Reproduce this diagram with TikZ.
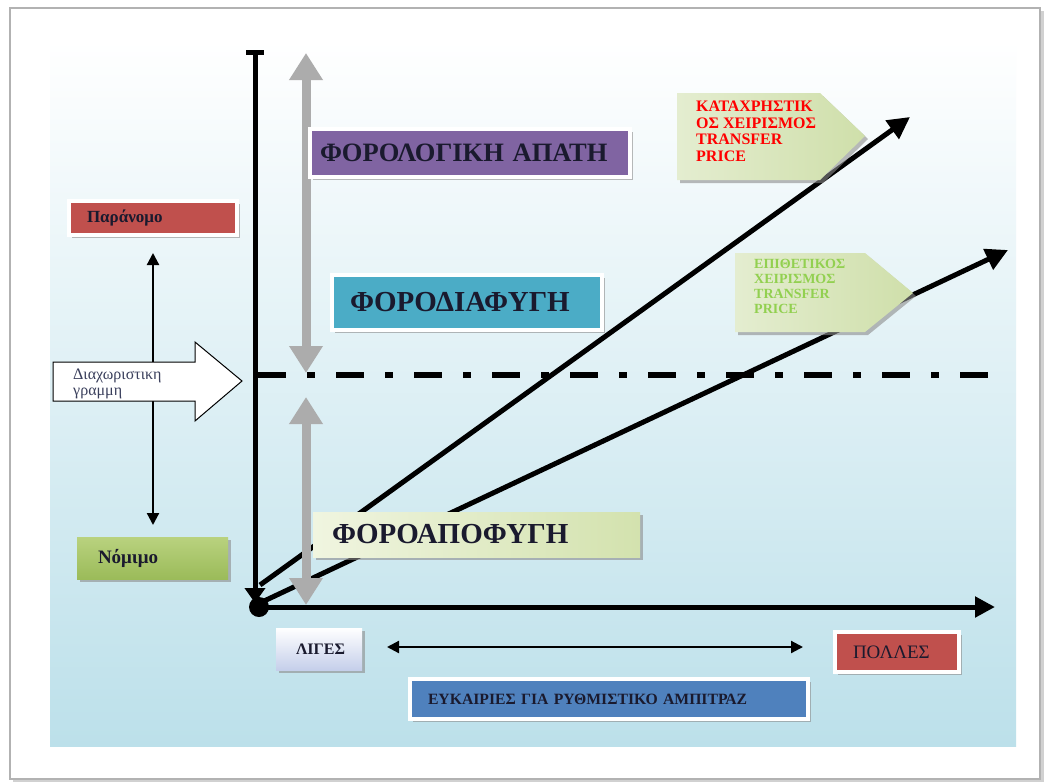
\documentclass[tikz,border=0pt]{standalone}
\usepackage{fontspec}
\setmainfont{Liberation Serif}
\usetikzlibrary{arrows.meta,shadows,calc}
\definecolor{panelM}{HTML}{E4F2F6}
\definecolor{panelB}{HTML}{BCE0EA}
\definecolor{purpleF}{HTML}{8064A2}
\definecolor{tealF}{HTML}{4BACC6}
\definecolor{redF}{HTML}{C0504D}
\definecolor{blueF}{HTML}{4F81BD}
\definecolor{greenF}{HTML}{9BBB59}
\definecolor{greenL}{HTML}{B9D27F}
\definecolor{paleL}{HTML}{F0F5E0}
\definecolor{paleR}{HTML}{D3E2AE}
\definecolor{calL}{HTML}{E4EDD0}
\definecolor{calR}{HTML}{CFDFAA}
\definecolor{lilac}{HTML}{C5CFEA}
\definecolor{darktext}{HTML}{1A1A2E}
\definecolor{navytext}{HTML}{3A3F5C}
\definecolor{lightgreenT}{HTML}{92D050}
\begin{document}
\begin{tikzpicture}[x=1pt,y=-1pt,
  shadowed/.style={drop shadow={shadow xshift=3pt,shadow yshift=-3pt,fill=black!45,opacity=0.6}},
  framebox/.style={shadowed,draw=white,line width=3.5pt,outer sep=0pt,anchor=north west,
     inner ysep=0pt,align=left,text=darktext},
  bigtxt/.style={font=\fontsize{29}{32}\selectfont\bfseries},
  axisline/.style={line width=5pt,black},
  diag/.style={line width=5pt,black,-{Triangle[width=22pt,length=22pt]}},
  greyarrow/.style={line width=9pt,draw=gray!65,{Triangle[width=32pt,length=27pt]}-{Triangle[width=32pt,length=27pt]}},
  thinarrow/.style={line width=2.2pt,black,{Triangle[width=12pt,length=12pt]}-{Triangle[width=12pt,length=12pt]}}
]
\useasboundingbox (0,0) rectangle (1044,782);
% page frame
\fill[black!18] (13,11) rectangle (1044,782);
\draw[gray!60,line width=1.2pt,fill=white] (10,8) rectangle (1040,779);
% panel
\shade[top color=white,middle color=panelM,bottom color=panelB] (50,40) rectangle (1016,746);

% named points
\coordinate (O) at (258,607);
\coordinate (Ytop) at (255,50);
\coordinate (Ybot) at (255,603);
\coordinate (Xend) at (995,607);
\coordinate (D1) at (258,375);
\coordinate (D2) at (1000,375);
\coordinate (L1a) at (260,585);
\coordinate (L1b) at (910,117);
\coordinate (L2a) at (262,602);
\coordinate (L2b) at (1008,250);
\coordinate (G1a) at (306,53);
\coordinate (G1b) at (306,373);
\coordinate (G2a) at (306,397);
\coordinate (G2b) at (306,605);

% dash-dot separating line
\draw[line width=6pt,dash pattern=on 28pt off 21pt on 8pt off 21pt] (D1) -- (D2);
% diagonals
\draw[diag] (L1a) -- (L1b);
\draw[diag] (L2a) -- (L2b);
% axes
\draw[axisline,{Triangle[width=20pt,length=15pt]}-{Bar[width=18pt]}] (Ybot) -- (Ytop);
\draw[axisline,-{Triangle[width=20pt,length=20pt]}] (O) -- (Xend);
\fill (259,607) circle (10);
% grey double arrows
\draw[greyarrow] (G1a) -- (G1b);
\draw[greyarrow] (G2a) -- (G2b);

% boxes
\node[framebox,fill=purpleF,minimum width=320pt,minimum height=48pt,inner xsep=10pt,text width=300pt,
  font=\fontsize{26.5}{29}\selectfont\bfseries]
  (apati) at (310,129) {ΦΟΡΟΛΟΓΙΚΗ ΑΠΑΤΗ};
\node[framebox,fill=tealF,minimum width=270pt,minimum height=55pt,inner xsep=18pt,text width=234pt,bigtxt]
  (diafygi) at (332,275) {ΦΟΡΟΔΙΑΦΥΓΗ};
\node[framebox,draw=none,left color=paleL,right color=paleR,minimum width=327pt,minimum height=45pt,inner xsep=19pt,text width=289pt,bigtxt]
  (apofygi) at (313,512) {ΦΟΡΟΑΠΟΦΥΓΗ};

% left side
\node[framebox,fill=redF,minimum width=168pt,minimum height=34pt,inner xsep=18pt,text width=132pt,
  font=\fontsize{17}{19}\selectfont\bfseries] (paranomo) at (69,201) {Παράνομο};
\node[framebox,draw=none,top color=greenL,bottom color=greenF,minimum width=151pt,minimum height=42pt,inner xsep=21pt,text width=109pt,
  font=\fontsize{19}{21}\selectfont\bfseries] (nomimo) at (77,537) {Νόμιμο};
\draw[thinarrow,shorten <=18pt,shorten >=12pt] (paranomo.south) -- (paranomo.south |- nomimo.north);
% block arrow
\draw[fill=white,line width=1pt] (53,362) -- (195,362) -- (195,342) -- (242,381) -- (195,421) -- (195,401) -- (53,401) -- cycle;
\node[anchor=west,align=left,inner sep=0pt,text=navytext,font=\fontsize{16}{16}\selectfont] (diax) at (73,384) {Διαχωριστικη\\γραμμη};

% bottom
\node[framebox,draw=none,top color=white,bottom color=lilac,minimum width=86pt,minimum height=42pt,inner xsep=20pt,text width=46pt,
  font=\fontsize{16}{18}\selectfont\bfseries] (liges) at (276,628) {ΛΙΓΕΣ};
\node[framebox,fill=redF,minimum width=124pt,minimum height=40pt,inner xsep=18pt,text width=88pt,
  font=\fontsize{19}{21}\selectfont] (polles) at (835,632) {ΠΟΛΛΕΣ};
\node[framebox,fill=blueF,minimum width=398pt,minimum height=40pt,inner xsep=18pt,text width=362pt,
  font=\fontsize{15.7}{18}\selectfont\bfseries] (eykairies) at (410,679) {ΕΥΚΑΙΡΙΕΣ ΓΙΑ ΡΥΘΜΙΣΤΙΚΟ ΑΜΠΙΤΡΑΖ};
\coordinate (HA) at (387,647);
\coordinate (HB) at (803,647);
\draw[thinarrow] (HA) -- (HB);

% callouts
\shade[shadowed,left color=calL,right color=calR] (677,93) -- (820,93) -- (865,136) -- (820,180) -- (677,180) -- cycle;
\node[anchor=north west,align=left,inner sep=0pt,text=red,font=\fontsize{16}{16.5}\selectfont\bfseries] (katax) at (696,101)
  {ΚΑΤΑΧΡΗΣΤΙΚ\\ΟΣ ΧΕΙΡΙΣΜΟΣ\\TRANSFER\\PRICE};
\shade[shadowed,left color=calL,right color=calR] (735,253) -- (865,253) -- (913,293) -- (865,332) -- (735,332) -- cycle;
\node[anchor=north west,align=left,inner sep=0pt,text=lightgreenT,font=\fontsize{14}{15}\selectfont\bfseries] (epith) at (754,259)
  {ΕΠΙΘΕΤΙΚΟΣ\\ΧΕΙΡΙΣΜΟΣ\\TRANSFER\\PRICE};
\end{tikzpicture}
\end{document}
